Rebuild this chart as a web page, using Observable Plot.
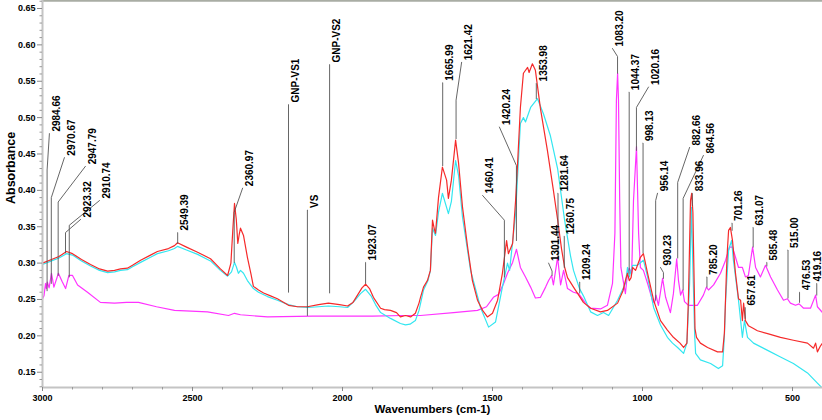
<!DOCTYPE html>
<html>
<head>
<meta charset="utf-8">
<script src="https://cdn.jsdelivr.net/npm/d3@7"></script>
<script src="https://cdn.jsdelivr.net/npm/@observablehq/plot@0.6"></script>
<style>
  html, body { margin: 0; padding: 0; background: #fff; }
  #chart svg { display: block; }
</style>
</head>
<body>
<div id="chart"></div>
<script>
// ---- Spectra (wavenumber cm-1, absorbance) ----
const wnRed = [3000,2970,2945,2920,2900,2870,2840,2810,2783,2760,2740,2717,2700,2673,2640,2617,2580,2560,2550,2520,2483,2440,2407,2383,2372,2365,2360,2354,2349,2344,2340,2330,2317,2305,2297,2280,2263,2240,2217,2180,2150,2117,2080,2047,2010,1983,1965,1950,1935,1923,1910,1897,1873,1860,1840,1820,1807,1790,1773,1757,1745,1740,1730,1717,1707,1700,1693,1690,1680,1667,1653,1647,1637,1623,1613,1600,1583,1567,1550,1533,1517,1500,1483,1467,1453,1447,1433,1423,1417,1407,1397,1383,1378,1367,1357,1340,1317,1297,1283,1270,1260,1250,1230,1197,1173,1140,1117,1083,1065,1057,1050,1044,1038,1033,1023,1007,997,983,963,940,917,897,875,863,852,847,840,836,832,829,825,820,807,783,750,733,727,720,717,713,707,700,690,680,673,667,663,657,647,630,617,583,540,497,450,430,423,417,407,400];
const absRed = [0.300,0.305,0.309,0.316,0.313,0.305,0.298,0.292,0.289,0.290,0.292,0.293,0.297,0.304,0.311,0.316,0.320,0.324,0.328,0.322,0.315,0.306,0.292,0.283,0.300,0.350,0.382,0.360,0.327,0.340,0.348,0.338,0.308,0.285,0.268,0.263,0.259,0.255,0.251,0.242,0.240,0.240,0.243,0.245,0.243,0.241,0.246,0.256,0.266,0.271,0.265,0.253,0.238,0.236,0.235,0.232,0.226,0.228,0.226,0.231,0.245,0.253,0.267,0.276,0.290,0.359,0.345,0.341,0.390,0.432,0.414,0.389,0.414,0.469,0.437,0.377,0.322,0.276,0.249,0.235,0.226,0.231,0.249,0.286,0.331,0.313,0.327,0.386,0.432,0.514,0.561,0.569,0.562,0.574,0.565,0.512,0.455,0.400,0.360,0.320,0.295,0.280,0.267,0.246,0.238,0.233,0.235,0.245,0.262,0.276,0.286,0.276,0.280,0.294,0.290,0.308,0.313,0.286,0.249,0.221,0.208,0.198,0.190,0.184,0.190,0.249,0.386,0.396,0.370,0.300,0.210,0.198,0.190,0.184,0.178,0.178,0.204,0.290,0.318,0.345,0.349,0.331,0.286,0.251,0.249,0.221,0.245,0.221,0.214,0.210,0.207,0.203,0.198,0.194,0.190,0.183,0.190,0.178,0.186,0.190];

const wnCyan = [3000,2970,2945,2920,2900,2870,2840,2810,2783,2760,2740,2717,2700,2673,2640,2617,2580,2560,2550,2520,2483,2440,2407,2383,2370,2360,2354,2347,2340,2330,2317,2297,2280,2250,2217,2180,2150,2117,2080,2047,2010,1983,1960,1940,1923,1905,1890,1873,1840,1807,1790,1775,1757,1745,1730,1715,1707,1700,1690,1680,1667,1647,1637,1623,1613,1600,1573,1540,1513,1490,1467,1450,1443,1423,1407,1397,1390,1373,1350,1330,1307,1283,1260,1240,1230,1210,1197,1173,1150,1130,1113,1083,1057,1050,1044,1033,1017,997,983,963,940,917,900,883,863,852,843,837,832,826,823,807,773,747,733,727,723,713,703,697,680,667,660,650,630,583,540,497,450,417,400];
const absCyan = [0.298,0.303,0.307,0.313,0.311,0.303,0.296,0.290,0.287,0.288,0.290,0.291,0.295,0.301,0.308,0.313,0.317,0.320,0.323,0.318,0.312,0.303,0.290,0.282,0.288,0.301,0.295,0.286,0.290,0.286,0.276,0.265,0.260,0.254,0.249,0.243,0.240,0.239,0.240,0.241,0.240,0.239,0.248,0.258,0.264,0.255,0.243,0.232,0.224,0.217,0.215,0.216,0.221,0.235,0.263,0.276,0.290,0.348,0.338,0.370,0.396,0.368,0.385,0.441,0.420,0.363,0.290,0.239,0.212,0.219,0.267,0.300,0.290,0.368,0.492,0.500,0.494,0.514,0.526,0.505,0.475,0.430,0.360,0.310,0.290,0.265,0.255,0.233,0.228,0.232,0.228,0.249,0.272,0.294,0.281,0.297,0.297,0.304,0.281,0.239,0.215,0.198,0.190,0.184,0.176,0.190,0.272,0.377,0.294,0.200,0.176,0.167,0.162,0.155,0.159,0.200,0.249,0.318,0.331,0.304,0.249,0.198,0.221,0.198,0.190,0.180,0.171,0.162,0.149,0.135,0.128];

const wnMag = [3000,2995,2990,2987,2984,2978,2970,2962,2947,2935,2923,2912,2900,2883,2850,2807,2760,2720,2680,2620,2560,2450,2380,2360,2340,2250,2100,2000,1900,1800,1740,1630,1550,1520,1497,1480,1463,1450,1433,1420,1407,1390,1373,1357,1340,1323,1313,1303,1297,1283,1273,1263,1250,1230,1213,1190,1173,1140,1117,1100,1092,1087,1083,1080,1076,1072,1057,1050,1044,1036,1030,1020,1013,1007,997,983,967,960,955,947,933,923,907,897,886,880,873,866,860,847,817,797,787,780,763,740,723,710,700,690,680,667,657,647,633,623,607,590,573,550,530,517,507,490,478,463,440,423,417,400];
const absMag = [0.251,0.255,0.272,0.265,0.274,0.266,0.286,0.267,0.286,0.275,0.265,0.283,0.283,0.270,0.260,0.246,0.245,0.246,0.246,0.240,0.235,0.233,0.228,0.231,0.229,0.226,0.227,0.227,0.227,0.228,0.228,0.232,0.235,0.240,0.253,0.257,0.272,0.286,0.301,0.319,0.294,0.281,0.267,0.252,0.253,0.267,0.276,0.283,0.270,0.308,0.270,0.290,0.265,0.260,0.258,0.245,0.238,0.237,0.242,0.272,0.341,0.524,0.561,0.524,0.386,0.294,0.258,0.286,0.293,0.286,0.386,0.460,0.341,0.294,0.290,0.272,0.249,0.245,0.256,0.242,0.279,0.253,0.232,0.258,0.306,0.276,0.256,0.263,0.247,0.242,0.242,0.256,0.267,0.263,0.270,0.286,0.304,0.322,0.322,0.308,0.294,0.294,0.281,0.283,0.322,0.294,0.281,0.297,0.281,0.263,0.249,0.251,0.245,0.242,0.244,0.238,0.238,0.256,0.240,0.232];

// ---- Peak annotations ----
const peakLabels = ["2984.66","2970.67","2947.79","2923.32","2910.74","2549.39","2360.97","GNP-VS1","GNP-VS2","VS","1923.07","1665.99","1621.42","1460.41","1420.24","1353.98","1301.44","1281.64","1260.75","1209.24","1083.20","1044.37","1020.16","998.13","956.14","930.23","882.66","864.56","833.96","785.20","701.26","657.61","631.07","585.48","515.00","476.53","419.16"];
const peakLineWn = [2984.66,2970.67,2947.79,2923.32,2910.74,2549.39,2360.97,2180,2043,2117,1923.07,1665.99,1621.42,1460.41,1420.24,1353.98,1301.44,1281.64,1260.75,1209.24,1083.20,1044.37,1020.16,998.13,956.14,930.23,882.66,864.56,833.96,785.20,701.26,657.61,631.07,585.48,515.00,476.53,419.16];
const peakLineBottom = [0.262,0.272,0.283,0.314,0.281,0.327,0.301,0.260,0.259,0.228,0.272,0.434,0.471,0.281,0.331,0.526,0.283,0.308,0.294,0.259,0.561,0.286,0.455,0.314,0.249,0.279,0.307,0.263,0.379,0.267,0.345,0.224,0.322,0.296,0.252,0.246,0.256];
const peakLineKnee = [0.428,0.390,0.384,0.342,0.352,0.342,0.370,0.518,0.573,0.373,0.301,0.548,0.524,0.359,0.434,0.547,0.289,0.396,0.337,0.274,0.584,0.535,0.514,0.465,0.386,0.287,0.411,0.389,0.396,0.281,0.355,0.239,0.349,0.301,0.318,0.260,0.272];
const peakTextWn = [2977,2927,2857,2873,2810,2549.39,2333,2180,2043,2117,1923.07,1665.99,1603,1533,1477,1353.98,1313,1281.64,1260.75,1209.24,1100,1044.37,980,998.13,950,940,843,797,833.96,785.20,701.26,657.61,631.07,585.48,515.00,476.53,419.16];
const peakTextAbs = [0.478,0.445,0.433,0.360,0.386,0.342,0.403,0.518,0.573,0.373,0.301,0.548,0.576,0.393,0.487,0.547,0.300,0.396,0.337,0.274,0.595,0.535,0.542,0.465,0.396,0.294,0.459,0.448,0.396,0.281,0.355,0.239,0.349,0.301,0.318,0.260,0.272];

// ---- Axis ticks ----
const xTicks = [3000,2500,2000,1500,1000,500];
const xMinor = [2900,2800,2700,2600,2400,2300,2200,2100,1900,1800,1700,1600,1400,1300,1200,1100,900,800,700,600,400];
const yTicks = [0.15,0.20,0.25,0.30,0.35,0.40,0.45,0.50,0.55,0.60,0.65];
const yMinor = d3.range(13, 67).map(k => k / 100).filter(v => Math.round(v * 100) % 5 !== 0);

const toRows = (w, a) => w.map((x, i) => ({wn: x, abs: a[i]}));
const red = toRows(wnRed, absRed);
const cyan = toRows(wnCyan, absCyan);
const mag = toRows(wnMag, absMag);

const leaders = [];
peakLabels.forEach((lab, i) => {
  leaders.push({id: lab, wn: peakLineWn[i], abs: peakLineBottom[i]});
  leaders.push({id: lab, wn: peakLineWn[i], abs: peakLineKnee[i]});
  leaders.push({id: lab, wn: peakTextWn[i], abs: peakTextAbs[i]});
});
const labels = peakLabels.map((lab, i) => ({text: lab, wn: peakTextWn[i], abs: peakTextAbs[i]}));
const lastLabel = labels.length - 1;
const mainLabels = labels.slice(0, lastLabel);
const edgeLabels = labels.slice(lastLabel);

const axisGray = "#c4c4c4";

const chart = Plot.plot({
  width: 822,
  height: 420,
  marginLeft: 42,
  marginRight: 0,
  marginTop: 0,
  marginBottom: 33,
  style: {fontFamily: "'Liberation Sans', Arial, sans-serif", fontWeight: "bold", background: "#fff", overflow: "visible"},
  x: {domain: [3000, 400]},
  y: {domain: [0.129, 0.661]},
  marks: [
    Plot.ruleY([0.661], {stroke: "#a9ada4", strokeWidth: 2.5}),
    Plot.line(mag, {x: "wn", y: "abs", stroke: "#ff33ff", strokeWidth: 1.2, clip: true}),
    Plot.line(cyan, {x: "wn", y: "abs", stroke: "#33e6f0", strokeWidth: 1.2, clip: true}),
    Plot.line(red, {x: "wn", y: "abs", stroke: "#f52a2a", strokeWidth: 1.2, clip: true}),
    Plot.line(leaders, {x: "wn", y: "abs", z: "id", stroke: "#555", strokeWidth: 0.9, clip: true}),
    Plot.text(mainLabels, {x: "wn", y: "abs", text: "text", rotate: -90, textAnchor: "start", dx: 7, dy: -2, fontSize: 10, fontWeight: "bold", fill: "#000"}),
    Plot.text(edgeLabels, {x: "wn", y: "abs", text: "text", rotate: -90, textAnchor: "start", dx: 1.5, dy: -2, fontSize: 10, fontWeight: "bold", fill: "#000"}),
    Plot.ruleX([3000], {stroke: axisGray, strokeWidth: 2}),
    Plot.ruleY([0.129], {stroke: axisGray, strokeWidth: 2}),
    Plot.axisY(yTicks, {tickSize: 5, tickPadding: 2, tickFormat: d3.format(".2f"), fontSize: 9, fontWeight: "bold", stroke: "#888", label: null, color: "#000"}),
    Plot.axisY(yMinor, {tickSize: 2.5, tickFormat: () => "", stroke: "#999", label: null}),
    Plot.axisX(xTicks, {tickSize: 4, tickPadding: 3, tickFormat: d => String(d), fontSize: 9, fontWeight: "bold", stroke: "#888", label: null}),
    Plot.axisX(xMinor, {tickSize: 2.5, tickFormat: () => "", stroke: "#999", label: null}),
    Plot.text(["Absorbance"], {frameAnchor: "left", rotate: -90, dx: -32, dy: 10, fontSize: 12.5, fontWeight: "bold", fill: "#000"}),
    Plot.text(["Wavenumbers (cm-1)"], {frameAnchor: "bottom", dy: 25, fontSize: 11.5, fontWeight: "bold", fill: "#000"})
  ]
});
document.getElementById("chart").appendChild(chart);
</script>
</body>
</html>
